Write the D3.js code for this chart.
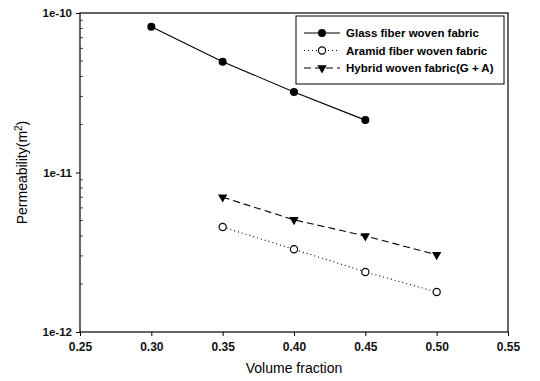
<!DOCTYPE html>
<html>
<head>
<meta charset="utf-8">
<script src="https://cdn.jsdelivr.net/npm/d3@7"></script>
<style>
  body { margin: 0; background: #fff; }
  svg { display: block; font-family: "Liberation Sans", Arial, sans-serif; }
</style>
</head>
<body>
<div id="chart"></div>
<script>
const width = 540;
const height = 381;
const margin = { top: 13, right: 32, bottom: 49, left: 80 };

// data
const glassX = [0.30, 0.35, 0.40, 0.45];
const glassY = [8.2e-11, 4.95e-11, 3.2e-11, 2.13e-11];
const aramidX = [0.35, 0.40, 0.45, 0.50];
const aramidY = [4.55e-12, 3.3e-12, 2.38e-12, 1.78e-12];
const hybridX = [0.35, 0.40, 0.45, 0.50];
const hybridY = [7.0e-12, 5.05e-12, 4.0e-12, 3.05e-12];

const xTicks = [0.25, 0.30, 0.35, 0.40, 0.45, 0.50, 0.55];
const yTicks = [1e-12, 1e-11, 1e-10];
const yTickLabels = ['1e-12', '1e-11', '1e-10'];

const series = [
    { name: 'Glass fiber woven fabric', xs: glassX, ys: glassY, dash: null, marker: 'dot' },
    { name: 'Aramid fiber woven fabric', xs: aramidX, ys: aramidY, dash: '1,3', marker: 'circle' },
    { name: 'Hybrid woven fabric(G + A)', xs: hybridX, ys: hybridY, dash: '7,4', marker: 'tri' },
];

const plotW = width - margin.left - margin.right;
const plotH = height - margin.top - margin.bottom;

const svg = d3.select('#chart').append('svg')
    .attr('width', width)
    .attr('height', height);

const g = svg.append('g')
    .attr('transform', `translate(${margin.left},${margin.top})`);

const x = d3.scaleLinear().domain([0.25, 0.55]).range([0, plotW]);
const y = d3.scaleLog().domain([1e-12, 1e-10]).range([plotH, 0]);

// frame
g.append('rect')
    .attr('width', plotW).attr('height', plotH)
    .attr('fill', 'none').attr('stroke', '#000').attr('stroke-width', 1.2);

// x axis
const xAxis = g.append('g')
    .attr('transform', `translate(0,${plotH})`)
    .call(d3.axisBottom(x).tickValues(xTicks).tickFormat(d3.format('.2f')).tickSize(4).tickPadding(6));
xAxis.select('.domain').remove();
xAxis.selectAll('text').attr('font-size', 12).attr('font-weight', 'bold').attr('fill', '#111')
    .attr('font-family', '"Liberation Sans", Arial, sans-serif');

// y axis
const yAxis = g.append('g')
    .call(d3.axisLeft(y).tickValues(yTicks).tickFormat((d, i) => yTickLabels[i]).tickSize(4).tickPadding(4));
yAxis.select('.domain').remove();
yAxis.selectAll('text').attr('font-size', 11.5).attr('font-weight', 'bold').attr('fill', '#111')
    .attr('font-family', '"Liberation Sans", Arial, sans-serif');

// minor log ticks, inside
const minor = [];
[1e-12, 1e-11].forEach(dec => { for (let k = 2; k <= 9; k++) minor.push(dec * k); });
g.append('g').selectAll('line').data(minor).join('line')
    .attr('x1', 0).attr('x2', 3)
    .attr('y1', d => y(d)).attr('y2', d => y(d))
    .attr('stroke', '#000').attr('stroke-width', 0.7);

// lines and markers
const line = d3.line().x(d => x(d[0])).y(d => y(d[1]));
const tri = d3.symbol().type(d3.symbolTriangle).size(38);

function drawMarker(sel, kind) {
    if (kind === 'dot') {
        sel.append('circle').attr('r', 4).attr('fill', '#000');
    } else if (kind === 'circle') {
        sel.append('circle').attr('r', 3.6).attr('fill', '#fff').attr('stroke', '#000').attr('stroke-width', 1.2);
    } else {
        sel.append('path').attr('d', tri()).attr('transform', 'rotate(180)').attr('fill', '#000');
    }
}

series.forEach(s => {
    const pts = s.xs.map((v, i) => [v, s.ys[i]]);
    g.append('path')
        .datum(pts)
        .attr('d', line)
        .attr('fill', 'none')
        .attr('stroke', '#000')
        .attr('stroke-width', 1.1)
        .attr('stroke-dasharray', s.dash);
    pts.forEach(p => {
        const m = g.append('g').attr('transform', `translate(${x(p[0])},${y(p[1])})`);
        drawMarker(m, s.marker);
    });
});

// legend
const lg = g.append('g').attr('transform', 'translate(216,3)');
lg.append('rect')
    .attr('width', 208).attr('height', 68)
    .attr('fill', '#fff').attr('stroke', '#000').attr('stroke-width', 1);
series.forEach((s, i) => {
    const row = lg.append('g').attr('transform', `translate(0,${17 + i * 17.5})`);
    row.append('line')
        .attr('x1', 8).attr('x2', 44)
        .attr('stroke', '#000').attr('stroke-width', 1.1)
        .attr('stroke-dasharray', s.dash);
    const m = row.append('g').attr('transform', 'translate(26,0)');
    drawMarker(m, s.marker);
    row.append('text')
        .attr('x', 50).attr('y', 4)
        .attr('font-size', 11.5).attr('font-weight', 'bold')
        .text(s.name);
});

// axis titles
svg.append('text')
    .attr('x', margin.left + plotW / 2).attr('y', 373)
    .attr('text-anchor', 'middle').attr('font-size', 14)
    .text('Volume fraction');

const yt = svg.append('text')
    .attr('transform', `translate(27,${margin.top + plotH / 2}) rotate(-90)`)
    .attr('text-anchor', 'middle').attr('font-size', 14);
yt.append('tspan').text('Permeability(m');
yt.append('tspan').attr('dy', -5).attr('font-size', 10).text('2');
yt.append('tspan').attr('dy', 5).text(')');
</script>
</body>
</html>
